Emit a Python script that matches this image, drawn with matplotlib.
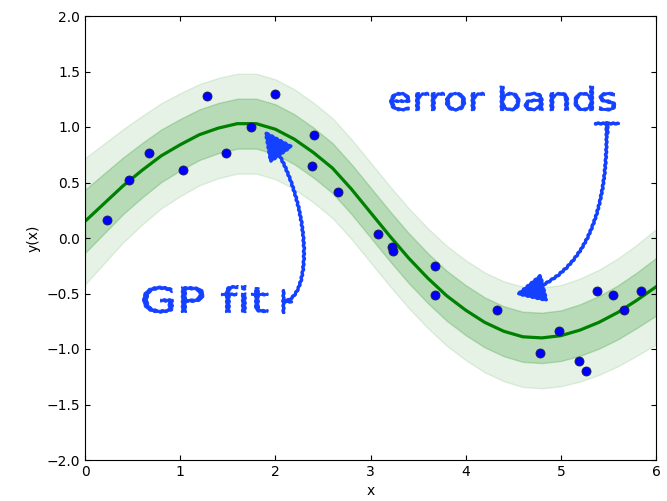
import numpy as np
import matplotlib
matplotlib.use('Agg')
import matplotlib.pyplot as plt
from matplotlib.path import Path
from matplotlib.patches import FancyArrowPatch, PathPatch
from matplotlib.textpath import TextPath
from matplotlib.font_manager import FontProperties
from matplotlib.transforms import Affine2D, ScaledTranslation

# observations
x_obs = [0.23, 0.46, 0.67, 1.03, 1.28, 1.48, 1.74, 2.00, 2.39, 2.41, 2.66, 3.08,
         3.23, 3.24, 3.68, 3.68, 4.33, 4.78, 4.98, 5.19, 5.26, 5.38, 5.55, 5.66, 5.84]
y_obs = [0.16, 0.52, 0.77, 0.61, 1.28, 0.77, 1.00, 1.30, 0.65, 0.93, 0.41, 0.04,
         -0.08, -0.12, -0.25, -0.51, -0.65, -1.04, -0.84, -1.11, -1.20, -0.48, -0.51, -0.65, -0.48]

# GP mean and one-sigma width
x_fit = [0.0, 0.2, 0.4, 0.6, 0.8, 1.0, 1.2, 1.4, 1.6, 1.8, 2.0, 2.2, 2.4, 2.6, 2.8, 3.0,
         3.2, 3.4, 3.6, 3.8, 4.0, 4.2, 4.4, 4.6, 4.8, 5.0, 5.2, 5.4, 5.6, 5.8, 6.0]
y_fit = [0.15, 0.31, 0.47, 0.61, 0.74, 0.84, 0.93, 0.99, 1.03, 1.03, 0.98, 0.89, 0.77,
         0.63, 0.44, 0.23, 0.02, -0.18, -0.36, -0.52, -0.65, -0.76, -0.84, -0.89, -0.90,
         -0.88, -0.83, -0.76, -0.67, -0.56, -0.44]
sigma = [0.285, 0.27, 0.255, 0.245, 0.237, 0.232, 0.228, 0.226, 0.225, 0.225, 0.225,
         0.225, 0.225, 0.225, 0.225, 0.225, 0.225, 0.225, 0.225, 0.225, 0.225, 0.225,
         0.225, 0.226, 0.227, 0.228, 0.232, 0.237, 0.243, 0.25, 0.26]

x_ticks = [0, 1, 2, 3, 4, 5, 6]
y_ticks = [-2.0, -1.5, -1.0, -0.5, 0.0, 0.5, 1.0, 1.5, 2.0]

blue = '#1440ff'

plt.rcParams['xtick.direction'] = 'in'
plt.rcParams['ytick.direction'] = 'in'
plt.rcParams['xtick.top'] = True
plt.rcParams['ytick.right'] = True
plt.rcParams['font.size'] = 10

fig = plt.figure(figsize=(6.67, 5.01), dpi=100)
ax = fig.add_axes([85/667, 41/501, 571/667, 444/501])

xf = np.array(x_fit)
yf = np.array(y_fit)
sg = np.array(sigma)

ax.fill_between(xf, yf - 2*sg, yf + 2*sg, color='green', alpha=0.1, lw=1)
ax.fill_between(xf, yf - sg, yf + sg, color='green', alpha=0.2, lw=1)
ax.plot(xf, yf, color='green', lw=2.3)
ax.plot(x_obs, y_obs, 'o', color='blue', ms=6.5, mec='#202040', mew=0.6)

ax.set_xlim(0, 6)
ax.set_ylim(-2, 2)
ax.set_xticks(x_ticks)
ax.set_yticks(y_ticks)
ax.set_xlabel('x')
ax.set_ylabel('y(x)')


def sketch_text(s, x0, y0, width_px, font_px):
    fp = FontProperties(family='DejaVu Sans')
    tp = TextPath((0, 0), s, size=1, prop=fp)
    ext = tp.get_extents()
    tr = Affine2D().scale(width_px / ext.width, font_px) + ScaledTranslation(x0, y0, ax.transData)
    p = PathPatch(tp, transform=tr, facecolor=blue, edgecolor=blue, lw=0.7, joinstyle='round')
    p.set_sketch_params(0.4, 5, 1)
    p.set_clip_on(False)
    ax.add_patch(p)


def sketch_arrow(verts, bar_end):
    codes = [Path.MOVETO, Path.CURVE4, Path.CURVE4, Path.CURVE4]
    arr = FancyArrowPatch(path=Path(verts, codes), arrowstyle='-|>,head_length=0.45,head_width=0.22',
                          mutation_scale=40, color=blue, lw=2.4, transform=ax.transData)
    arr.set_sketch_params(0.6, 5, 1)
    ax.add_patch(arr)
    bar = FancyArrowPatch(path=Path([verts[0], bar_end]), arrowstyle=']-,widthA=0.2,lengthA=0',
                          mutation_scale=40, color=blue, lw=2.4, transform=ax.transData)
    bar.set_sketch_params(0.6, 5, 1)
    ax.add_patch(bar)


# annotation text: position (data) of left/baseline, width and size in pixels
sketch_text('error bands', 3.18, 1.15, 226, 32)
sketch_text('GP fit', 0.58, -0.67, 125, 35)

sketch_arrow([(2.08, -0.57), (2.40, -0.57), (2.40, 0.35), (1.88, 0.97)], (2.16, -0.57))
sketch_arrow([(5.48, 1.04), (5.50, 0.30), (5.30, -0.35), (4.52, -0.51)], (5.48, 0.95))

plt.savefig('out.png', dpi=100)
